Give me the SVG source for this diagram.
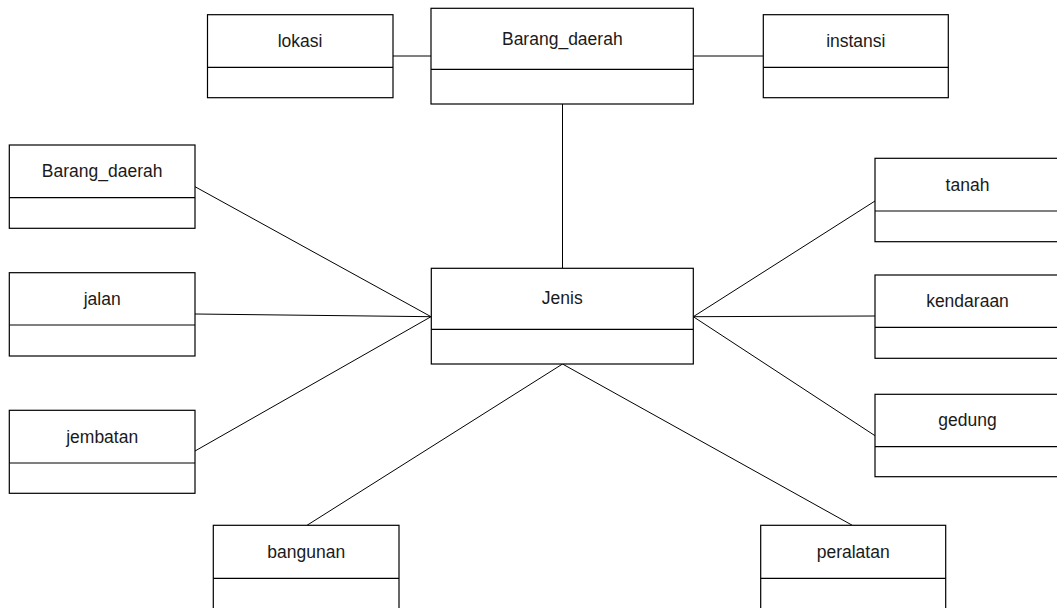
<svg xmlns="http://www.w3.org/2000/svg" width="1057" height="608" viewBox="0 0 1057 608">
<style>
.box{fill:#fff;stroke:#000;stroke-width:1.2}
.div{stroke:#000;stroke-width:1.2}
.lbl{font-family:"Liberation Sans",Arial,sans-serif;font-size:17.5px;fill:#1a1a1a;text-anchor:middle}
.con line{stroke:#000;stroke-width:1}
</style>
<rect width="1057" height="608" fill="#fff"/>
<g class="con">
<line x1="393" y1="56" x2="431" y2="56"/>
<line x1="693" y1="56" x2="763" y2="56"/>
<line x1="562.5" y1="104" x2="562.5" y2="268"/>
<line x1="195" y1="186.7" x2="431" y2="316.7"/>
<line x1="195" y1="314" x2="431" y2="316.7"/>
<line x1="195" y1="451" x2="431" y2="316.7"/>
<line x1="693.3" y1="316.7" x2="875" y2="201"/>
<line x1="693.3" y1="316.7" x2="875" y2="316"/>
<line x1="693.3" y1="316.7" x2="875" y2="435.7"/>
<line x1="562.5" y1="364" x2="307" y2="525.3"/>
<line x1="562.5" y1="364" x2="852.3" y2="525.3"/>
</g>
<g id="lokasi"><rect class="box" x="207.5" y="14.7" width="185.5" height="83"/><line class="div" x1="207.5" y1="67.3" x2="393" y2="67.3"/><text class="lbl" x="300" y="47">lokasi</text></g>
<g id="barang_daerah_top"><rect class="box" x="431" y="8.3" width="262.3" height="95.7"/><line class="div" x1="431" y1="69.3" x2="693.3" y2="69.3"/><text class="lbl" x="562.3" y="44.5">Barang_daerah</text></g>
<g id="instansi"><rect class="box" x="763.3" y="14.7" width="185" height="83"/><line class="div" x1="763.3" y1="67.3" x2="948.3" y2="67.3"/><text class="lbl" x="855.8" y="47">instansi</text></g>
<g id="barang_daerah_left"><rect class="box" x="9.3" y="145" width="185.7" height="83.3"/><line class="div" x1="9.3" y1="197.7" x2="195" y2="197.7"/><text class="lbl" x="102.2" y="177.3">Barang_daerah</text></g>
<g id="jalan"><rect class="box" x="9.3" y="272.7" width="185.7" height="83.3"/><line class="div" x1="9.3" y1="325" x2="195" y2="325"/><text class="lbl" x="102.2" y="305">jalan</text></g>
<g id="jembatan"><rect class="box" x="9.3" y="410.3" width="185.7" height="83"/><line class="div" x1="9.3" y1="463" x2="195" y2="463"/><text class="lbl" x="102.2" y="442.5">jembatan</text></g>
<g id="jenis"><rect class="box" x="431.3" y="268.3" width="262" height="95.7"/><line class="div" x1="431.3" y1="329.3" x2="693.3" y2="329.3"/><text class="lbl" x="562.3" y="304">Jenis</text></g>
<g id="tanah"><rect class="box" x="875" y="158.3" width="185" height="83.4"/><line class="div" x1="875" y1="211" x2="1060" y2="211"/><text class="lbl" x="967.5" y="190.5">tanah</text></g>
<g id="kendaraan"><rect class="box" x="875" y="275" width="185" height="83.3"/><line class="div" x1="875" y1="327.3" x2="1060" y2="327.3"/><text class="lbl" x="967.5" y="307">kendaraan</text></g>
<g id="gedung"><rect class="box" x="875" y="394.3" width="185" height="82.4"/><line class="div" x1="875" y1="446.7" x2="1060" y2="446.7"/><text class="lbl" x="967.5" y="426">gedung</text></g>
<g id="bangunan"><rect class="box" x="213.3" y="525.3" width="185.7" height="90"/><line class="div" x1="213.3" y1="578.3" x2="399" y2="578.3"/><text class="lbl" x="306.2" y="557.5">bangunan</text></g>
<g id="peralatan"><rect class="box" x="760.7" y="525.3" width="185" height="90"/><line class="div" x1="760.7" y1="578.3" x2="945.7" y2="578.3"/><text class="lbl" x="853.2" y="557.5">peralatan</text></g>
</svg>
